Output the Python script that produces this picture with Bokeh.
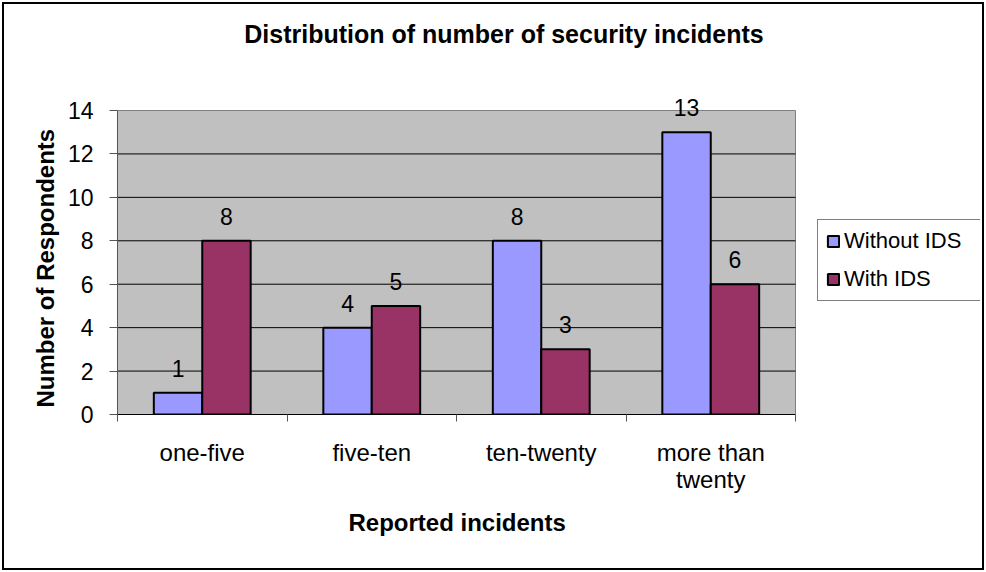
from bokeh.plotting import figure
from bokeh.models import (Range1d, FixedTicker, ColumnDataSource, LabelSet,
                          Legend, LegendItem, Title, Label)
from bokeh.core.properties import value
from bokeh.embed import file_html
from bokeh.resources import INLINE

# ---- data ----
categories = ["one-five", "five-ten", "ten-twenty", "more than\ntwenty"]
without_ids = [1, 4, 8, 13]
with_ids = [8, 5, 3, 6]
series_names = ["Without IDS", "With IDS"]
y_ticks = [0, 2, 4, 6, 8, 10, 12, 14]
title_text = "Distribution of number of  security incidents"
x_title = "Reported incidents"
y_title = "Number of Respondents"

FONT = "Liberation Sans"
NUM_FS = "23px"
TXT_FS = "24px"
BLUE = "#9999FF"
RED = "#993366"
GRAY = "#C0C0C0"
AXIS_GRAY = "#555555"

# page geometry (css margin + border round the canvas)
OFF = 4      # margin + border
EXTRA = 4    # canvas is drawn this much larger than width/height (border included)
W, H = 986 - 2 * OFF, 572 - 2 * OFF
PLOT_L, PLOT_R, PLOT_T, PLOT_B = 117, 795, 110, 414   # grey plot area on page
FRAME_T, FRAME_R = 8, 980                             # frame is larger (title/labels/legend unclipped)
TITLE_CX, TITLE_CY = 507, 33

n = len(categories)
bw = 1.0 / 3.5  # Excel gap width 150%
centers = [i + 0.5 for i in range(n)]
ymin, ymax = y_ticks[0], y_ticks[-1]
py_unit = (PLOT_B - PLOT_T) / (ymax - ymin)
px_unit = (PLOT_R - PLOT_L) / n
y_end = ymax + (PLOT_T - FRAME_T) / py_unit
x_end = n + (FRAME_R - PLOT_R) / px_unit

p = figure(width=W, height=H, output_backend="svg", toolbar_location=None,
           x_range=Range1d(0, x_end), y_range=Range1d(ymin, y_end),
           min_border_left=PLOT_L - OFF,
           min_border_right=W + OFF + EXTRA - FRAME_R,
           min_border_top=FRAME_T - OFF,
           min_border_bottom=H + OFF + EXTRA - PLOT_B)
p.styles = {"border": "2px solid black", "margin": "2px",
            "box-sizing": "content-box"}
p.background_fill_color = "white"
p.border_fill_color = "white"
p.outline_line_color = None
p.xgrid.visible = False
p.ygrid.visible = False

# grey plot area
p.quad(left=[0], right=[n], bottom=[ymin], top=[ymax], fill_color=GRAY,
       line_color="#808080", line_width=1, level="image")
# horizontal gridlines inside the plot area
inner = y_ticks[1:-1]
p.segment(x0=[0] * len(inner), y0=inner, x1=[n] * len(inner), y1=inner,
          line_color="black", line_width=1, level="underlay")
# axis lines (left grey, bottom black)
p.segment(x0=[0], y0=[ymin], x1=[0], y1=[ymax], line_color=AXIS_GRAY,
          line_width=1, level="guide")
p.segment(x0=[0], y0=[ymin], x1=[n], y1=[ymin], line_color="black",
          line_width=1, level="guide")

# chart title
p.add_layout(Label(x=(TITLE_CX - PLOT_L) / px_unit,
                   y=ymax + (PLOT_T - TITLE_CY) / py_unit,
                   text=title_text, text_align="center", text_baseline="middle",
                   text_font=FONT, text_font_size="25px", text_font_style="bold",
                   text_color="black"))

# y axis
p.yaxis.ticker = FixedTicker(ticks=y_ticks)
p.yaxis.major_tick_out = 8
p.yaxis.major_tick_in = 0
p.yaxis.minor_tick_out = 0
p.yaxis.minor_tick_in = 0
p.yaxis.axis_line_color = None
p.yaxis.major_tick_line_color = AXIS_GRAY
p.yaxis.major_label_standoff = 16
p.yaxis.major_label_text_font_size = NUM_FS

# x axis: labels at category centres, ticks at category boundaries
p.xaxis.ticker = FixedTicker(ticks=centers, minor_ticks=list(range(n + 1)))
p.xaxis.major_label_overrides = {c: lab for c, lab in zip(centers, categories)}
p.xaxis.major_tick_out = 0
p.xaxis.major_tick_in = 0
p.xaxis.minor_tick_out = 7
p.xaxis.minor_tick_in = 0
p.xaxis.minor_tick_line_color = AXIS_GRAY
p.xaxis.axis_line_color = None
p.xaxis.major_label_standoff = 17
p.xaxis.major_label_text_font_size = TXT_FS
p.xaxis.major_label_text_line_height = 1.02

for ax in (p.xaxis, p.yaxis):
    ax.major_label_text_font = FONT
    ax.major_label_text_color = "black"

# axis titles as side titles (positioned relative to the plot area)
p.add_layout(Title(text=y_title, align="left", offset=7, standoff=11,
                   text_font=FONT, text_font_size=TXT_FS, text_font_style="bold",
                   text_color="black"), "left")
p.add_layout(Title(text=x_title, align="left", offset=231, standoff=20,
                   text_font=FONT, text_font_size=TXT_FS, text_font_style="bold",
                   text_color="black"), "below")

# bars
renderers = []
for k, (vals, col) in enumerate(zip([without_ids, with_ids], [BLUE, RED])):
    xs = [c + (k - 0.5) * bw for c in centers]
    src = ColumnDataSource(dict(x=xs, top=vals, lab=[str(v) for v in vals]))
    r = p.vbar(x="x", top="top", width=bw, source=src, fill_color=col,
               line_color="black", line_width=2)
    renderers.append(r)
    p.add_layout(LabelSet(x="x", y="top", text="lab", source=src, y_offset=16,
                          text_align="center", text_baseline="alphabetic",
                          text_font=value(FONT), text_font_size=value(NUM_FS),
                          text_color="black"))

legend = Legend(items=[LegendItem(label=nm, renderers=[r])
                       for nm, r in zip(series_names, renderers)],
                location=(817 - PLOT_L, PLOT_B - 301))
legend.label_text_font = FONT
legend.label_text_font_size = "22px"
legend.label_text_color = "black"
legend.glyph_width = 14
legend.glyph_height = 14
legend.label_height = 26
legend.label_width = 128
legend.label_standoff = 4
legend.padding = 8
legend.spacing = 12
legend.margin = 0
legend.border_line_color = "black"
legend.border_line_width = 1
legend.background_fill_color = "white"
legend.background_fill_alpha = 1
p.add_layout(legend)

open("out.html", "w").write(file_html(p, INLINE))
